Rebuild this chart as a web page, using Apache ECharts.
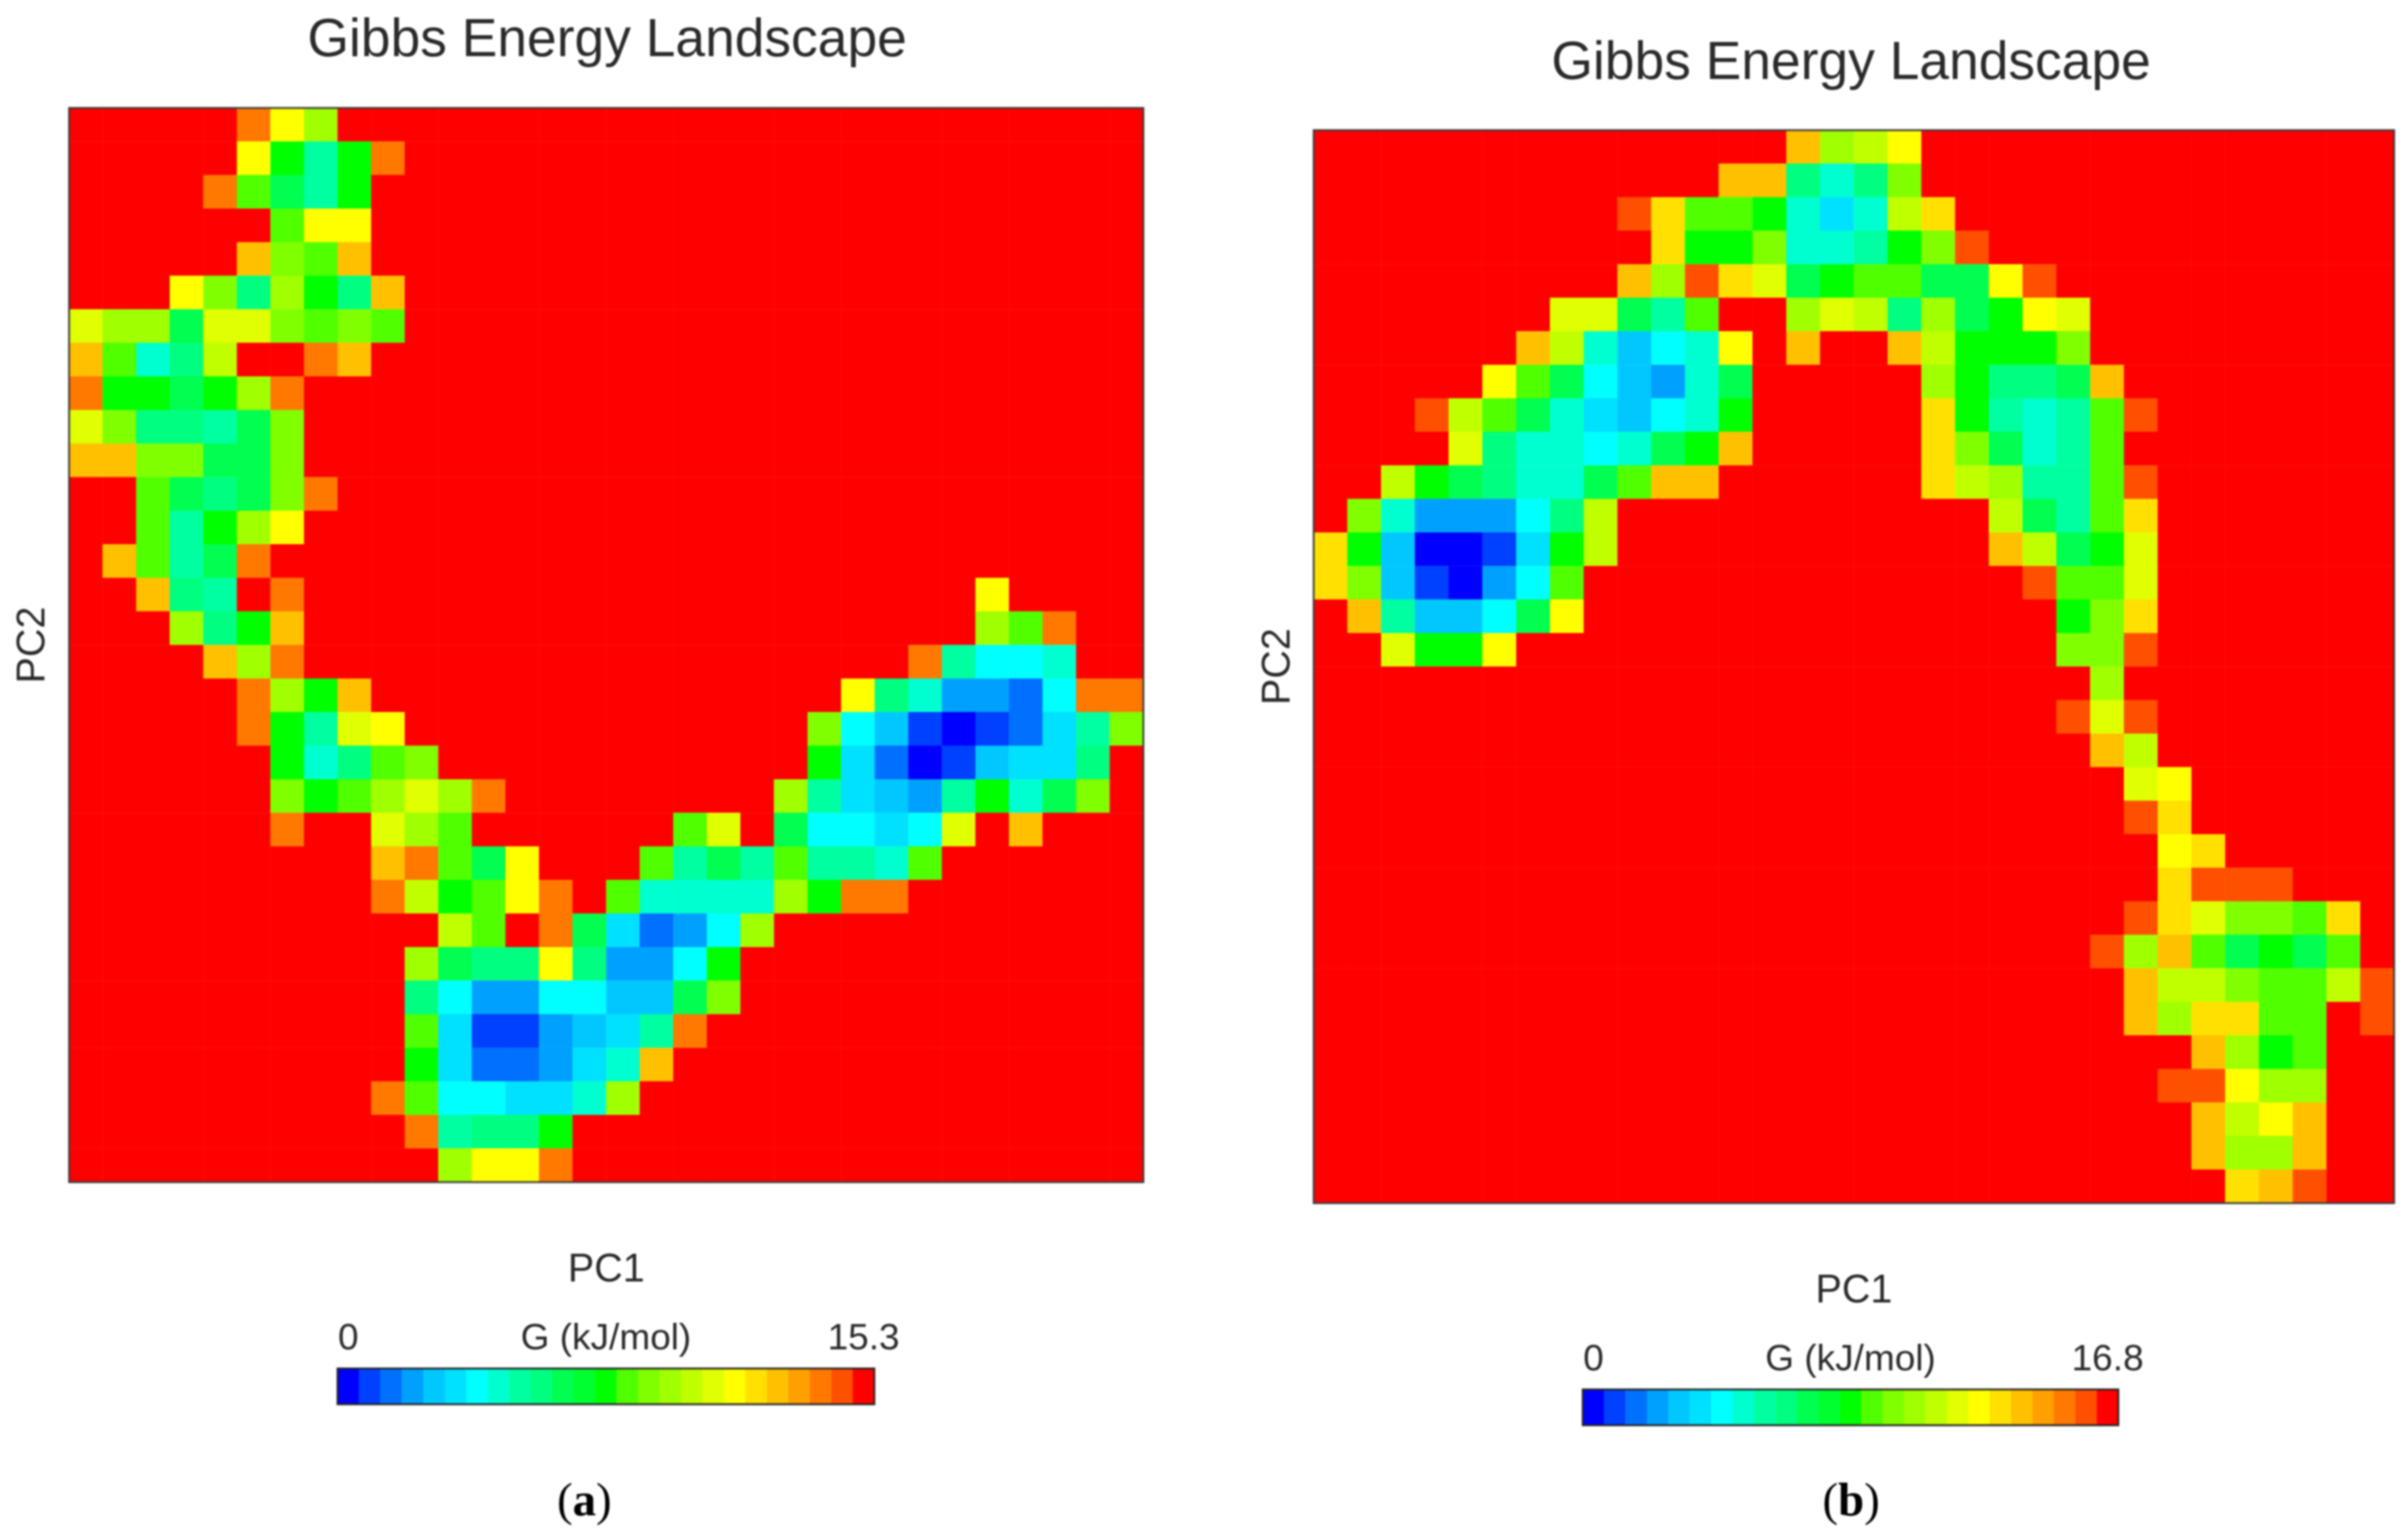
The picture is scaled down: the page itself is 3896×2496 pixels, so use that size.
<!DOCTYPE html>
<html>
<head>
<meta charset="utf-8">
<style>html,body{margin:0;padding:0;background:#fff}#c{width:3896px;height:2496px;filter:blur(1.5px)}</style>
<script src="https://cdn.jsdelivr.net/npm/echarts@6/dist/echarts.min.js"></script>
</head>
<body>
<div id="c"></div>
<script>
// Colour-bar steps: 25 bands, level 0 = 0 kJ/mol, level 24 = maximum.
const barColors = ['#0000ff','#0040ff','#0070ff','#00a0ff','#00c8ff','#00e0ff','#00ffff','#00ffd0','#00ffa0','#00ff80','#00ff50','#00ff30','#00ff00','#50ff00','#80ff00','#a0ff00','#c0ff00','#e0ff00','#ffff00','#ffe000','#ffc000','#ffa000','#ff7800','#ff5000','#ff0000'];
const barLevels = [0,1,2,3,4,5,6,7,8,9,10,11,12,13,14,15,16,17,18,19,20,21,22,23,24];
const maxA = 15.3, maxB = 16.8;
const backgroundLevel = 24;
const titleText = 'Gibbs Energy Landscape';
const xName = 'PC1', yName = 'PC2', barName = 'G (kJ/mol)';
const barTicksA = ['0','15.3'], barTicksB = ['0','16.8'];

// Each row (top to bottom) lists runs: [first column, level, level, ...]; all other cells are background.
const rowsA = [
 [[5,22,18,15]],
 [[5,18,12,8,12,22]],
 [[4,22,13,10,8,12]],
 [[6,13,18,18]],
 [[5,20,14,13,20]],
 [[3,18,14,9,15,12,9,20]],
 [[0,17,15,15,10,17,17,14,13,14,13]],
 [[0,20,13,7,9,16],[7,22,20]],
 [[0,22,12,12,10,12,15,22]],
 [[0,17,14,9,9,8,10,14]],
 [[0,20,20,14,14,10,10,14]],
 [[2,13,10,9,10,14,22]],
 [[2,13,8,12,15,18]],
 [[1,20,13,8,10,22]],
 [[2,20,9,8],[6,22],[27,18]],
 [[3,15,9,12,20],[27,15,13,22]],
 [[4,20,15,22],[25,22,8,6,6,7]],
 [[5,22,15,12,20],[23,18,9,7,3,3,2,6,22,22]],
 [[5,22,12,8,17,18],[22,14,6,4,1,0,1,2,5,8,14]],
 [[6,12,7,9,13,14],[22,12,5,2,0,1,4,5,5,9]],
 [[6,14,12,13,15,17,15,22],[21,15,8,5,4,3,8,12,7,10,14]],
 [[6,22],[9,17,15,13],[18,13,17],[21,10,6,6,5,6,17],[28,20]],
 [[9,20,22,13,10,18],[17,13,8,10,8,13,8,8,7,13]],
 [[9,22,16,12,13,18,22],[16,13,7,7,7,7,15,12,22,22]],
 [[11,16,13],[14,22,10,5,2,3,6,15]],
 [[10,15,10,9,9,18,9,3,3,6,12]],
 [[10,9,6,3,3,6,6,4,4,10,14]],
 [[10,13,5,1,1,3,4,5,8,22]],
 [[10,12,5,2,2,3,5,7,20]],
 [[9,22,13,6,6,5,5,7,15]],
 [[10,22,8,9,9,12]],
 [[11,15,18,18,22]]
];
const rowsB = [
 [[14,20,15,16,18]],
 [[12,20,20,9,7,9,14]],
 [[9,23,19,13,13,12,7,5,7,16,19]],
 [[10,19,12,12,14,7,7,8,12,14,23]],
 [[9,20,15,23,19,17,10,12,13,13,10,10,18,23]],
 [[7,17,17,10,8,13],[14,15,17,16,9,15,10,12,18,17]],
 [[6,20,16,7,4,6,7,18],[14,20],[17,20,16,12,12,12,14]],
 [[5,18,13,10,6,4,3,7,10],[18,15,12,9,9,10,20]],
 [[3,23,16,13,10,7,5,4,6,7,12],[18,19,12,8,7,8,13,23]],
 [[4,17,9,7,7,6,7,10,12,20],[18,19,14,10,7,8,13]],
 [[2,16,12,10,9,7,7,10,13,20,20],[18,19,16,15,8,8,13,23]],
 [[1,14,7,3,3,3,6,9,16],[20,16,10,8,13,19]],
 [[0,19,12,4,0,0,1,5,12,16],[20,20,16,10,12,17]],
 [[0,19,14,4,1,0,3,6,13],[21,23,13,13,17]],
 [[1,20,8,4,4,6,10,18],[22,12,14,19]],
 [[2,17,12,12,18],[22,14,14,23]],
 [[23,15]],
 [[22,23,17,23]],
 [[23,20,16]],
 [[24,17,18]],
 [[24,23,19]],
 [[25,18,19]],
 [[25,19,23,23,23]],
 [[24,23,19,17,14,14,13,19]],
 [[23,23,15,20,13,10,12,10,13]],
 [[24,20,16,16,14,13,13,16,23]],
 [[24,20,15,19,19,13,13],[31,23]],
 [[26,20,15,12,13]],
 [[25,23,23,18,15,15]],
 [[26,20,16,18,20]],
 [[26,20,15,15,20]],
 [[27,19,20,23]]
];

const N = 32;
const cats = Array.from({length:N},(_,i)=>String(i));
function cells(rows,max){
  const out=[];
  rows.forEach((runs,r)=>{
    const line=new Array(N).fill(backgroundLevel);
    runs.forEach(run=>{for(let i=1;i<run.length;i++) line[run[0]+i-1]=run[i];});
    line.forEach((lv,c)=>out.push([c,r,lv*max/24]));
  });
  return out;
}
const SANS='"Liberation Sans", Arial, sans-serif';
const TXT='#2a2a2a';
const panels=[
 {rows:rowsA,max:maxA,ticks:barTicksA,grid:{left:112,top:175,width:1741,height:1741},bar:{left:547,top:2218,width:870,height:58},title:[981,62],tag:[942,2431],letter:'a',pc2Gap:26},
 {rows:rowsB,max:maxB,ticks:barTicksB,grid:{left:2129,top:211,width:1751,height:1739},bar:{left:2565,top:2252,width:868,height:58},title:[2997,99],tag:[2995,2431],letter:'b',pc2Gap:25}
];
const option={animation:false,backgroundColor:'#fff',grid:[],xAxis:[],yAxis:[],series:[],visualMap:[],title:[]};
panels.forEach((p,i)=>{
  const g=i*2, b=i*2+1;
  option.grid.push({...p.grid,show:true,z:5,backgroundColor:'transparent',borderColor:'#3a3a3a',borderWidth:3,containLabel:false});
  option.grid.push({...p.bar,show:true,z:5,backgroundColor:'transparent',borderColor:'#222',borderWidth:3,containLabel:false});
  option.xAxis.push({gridIndex:g,type:'category',data:cats,axisLine:{show:false},axisTick:{show:false},axisLabel:{show:false},splitLine:{show:false},
    name:xName,nameLocation:'middle',nameGap:111,nameTextStyle:{fontFamily:SANS,fontSize:64,color:TXT}});
  option.yAxis.push({gridIndex:g,type:'category',data:cats,inverse:true,axisLine:{show:false},axisTick:{show:false},axisLabel:{show:false},splitLine:{show:false},
    name:yName,nameLocation:'middle',nameRotate:90,nameGap:p.pc2Gap,nameTextStyle:{fontFamily:SANS,fontSize:64,color:TXT}});
  const barCats=barLevels.map((_,k)=>k===0?p.ticks[0]:k===barLevels.length-1?p.ticks[1]:'');
  option.xAxis.push({gridIndex:b,type:'category',position:'top',data:barCats,axisLine:{show:false},axisTick:{show:false},splitLine:{show:false},
    axisLabel:{show:true,interval:0,margin:18,fontFamily:SANS,fontSize:60,color:TXT},
    name:barName,nameLocation:'middle',nameGap:18,nameMoveOverlap:false,nameTextStyle:{fontFamily:SANS,fontSize:60,color:TXT,verticalAlign:'bottom'}});
  option.yAxis.push({gridIndex:b,type:'category',data:['G'],axisLine:{show:false},axisTick:{show:false},axisLabel:{show:false},splitLine:{show:false}});
  option.series.push({type:'heatmap',xAxisIndex:g,yAxisIndex:g,data:cells(p.rows,p.max),progressive:0,itemStyle:{borderWidth:0},emphasis:{disabled:true}});
  option.series.push({type:'heatmap',xAxisIndex:b,yAxisIndex:b,data:barLevels.map((lv,k)=>[k,0,lv*p.max/24]),progressive:0,itemStyle:{borderWidth:0},emphasis:{disabled:true}});
  option.visualMap.push({show:false,type:'continuous',min:0,max:p.max,dimension:2,seriesIndex:[g,b],inRange:{color:barColors}});
  option.title.push({text:titleText,left:p.title[0]-2,top:p.title[1],textAlign:'center',textVerticalAlign:'middle',textStyle:{fontFamily:SANS,fontSize:86.5,fontWeight:'normal',color:TXT}});
  option.title.push({text:'{p|(}{q|'+p.letter+'}{p|)}',left:p.tag[0],top:p.tag[1],textAlign:'center',textVerticalAlign:'middle',
    textStyle:{rich:{p:{fontFamily:'"Liberation Serif", serif',fontSize:76,fontWeight:'normal',color:'#000'},q:{fontFamily:'"Liberation Serif", serif',fontSize:76,fontWeight:'bold',color:'#000'}}}});
});
echarts.init(document.getElementById('c'),null,{renderer:'canvas'}).setOption(option);
</script>
</body>
</html>
